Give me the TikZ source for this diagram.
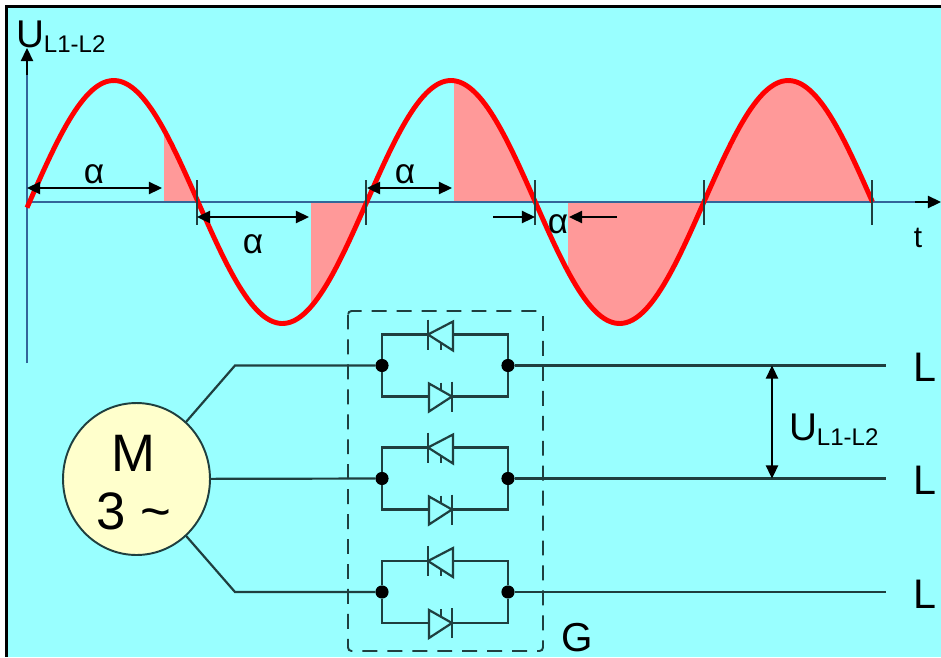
\documentclass[tikz,border=0pt]{standalone}
\usepackage{fontspec}
\setmainfont{Liberation Sans}
\usetikzlibrary{arrows.meta}
\usetikzlibrary{shapes.geometric}

\definecolor{bgcyan}{HTML}{99FFFF}
\definecolor{wavepink}{HTML}{FF9999}
\definecolor{motorcream}{HTML}{FFFFCC}
\definecolor{axisblue}{HTML}{336699}
\definecolor{wiredark}{HTML}{1F3F3F}

\newcommand{\ULabel}{{\fontsize{22}{22}\selectfont U}{\fontsize{13.7}{14}\selectfont\raisebox{-3pt}{L1-L2}}}
\newcommand{\SineY}[1]{202-121.5*sin((#1-29.5)/168.6*180)}

\begin{document}
\begin{tikzpicture}[x=0.02cm, y=-0.02cm, every node/.style={inner sep=0pt, outer sep=0pt}]
	\tikzset{wire/.style={wiredark, line width=1.25pt}}
	\tikzset{tip/.style={-{Triangle[length=7.5pt,width=7pt]}, black, line width=1pt}}
	\tikzset{tipboth/.style={{Triangle[length=7.5pt,width=7pt]}-{Triangle[length=7.5pt,width=7pt]}, black, line width=1pt}}
	\tikzset{junction/.style={circle, fill=black, minimum size=7.5pt}}
	\tikzset{alphalabel/.style={font=\fontsize{20}{20}\selectfont}}
	\tikzset{linelabel/.style={anchor=base west, font=\fontsize{23.5}{24}\selectfont}}
	\tikzset{motorlabel/.style={font=\fontsize{30}{30}\selectfont}}

	\useasboundingbox (0,0) rectangle (941,657);
	\fill[bgcyan] (6,6) rectangle (941,657);
	\draw[black, line width=1.3pt] (941,6.5) -- (6.5,6.5) -- (6.5,657);

	% Shaded parts of the wave
	\foreach \a/\b in {164/198,311/367,454/535.5,568/704,704/872.5}{
		\fill[wavepink] (\a,202) -- plot[domain=\a:\b, samples=60] (\x,{\SineY{\x}}) -- (\b,202) -- cycle;
	}

	% Axes
	\coordinate (O) at (27,202);
	\coordinate (Uend) at (27,48);
	\coordinate (Ustart) at (27,75);
	\coordinate (Ubottom) at (27,363);
	\coordinate (Tend) at (941,202);
	\coordinate (Tstart) at (915,202);
	\draw[axisblue, line width=0.8pt] (Ubottom) -- (Ustart);
	\draw[axisblue, line width=0.8pt] (O) -- (Tstart);
	\draw[tip] (Tstart) -- (Tend);
	\draw[tip] (Ustart) -- (Uend);
	\node[anchor=base west] (ulabel) at (16,47) {\ULabel};
	\node[anchor=base, font=\fontsize{17}{17}\selectfont] (tlabel) at (918,247) {t};

	\draw[red, line width=2.8pt, line join=round] plot[domain=27:872.5, samples=300] (\x,{\SineY{\x}});

	% Zero marks
	\foreach \i/\x in {1/197,2/366,3/535,4/704,5/872}{
		\coordinate (ma\i) at (\x,180);
		\coordinate (mb\i) at (\x,225);
		\draw[wire] (ma\i) -- (mb\i);
	}

	% Firing angle arrows
	\coordinate (a1) at (27,188);   \coordinate (a2) at (162,188);
	\coordinate (b1) at (197,217);  \coordinate (b2) at (309,217);
	\coordinate (c1) at (367,188);  \coordinate (c2) at (452,188);
	\coordinate (d1) at (493,217);  \coordinate (d2) at (535,217);
	\coordinate (e1) at (617,217);  \coordinate (e2) at (569,217);
	\draw[tipboth] (a1) -- (a2);
	\draw[tipboth] (b1) -- (b2);
	\draw[tipboth] (c1) -- (c2);
	\draw[tip] (d1) -- (d2);
	\draw[tip] (e1) -- (e2);
	\node[alphalabel] (aa) at (94,174) {α};
	\node[alphalabel] (ab) at (253,244) {α};
	\node[alphalabel] (ac) at (405,174) {α};
	\node[alphalabel] (ad) at (558,224) {α};

	% Controller box
	\draw[wiredark, line width=1.1pt, rounded corners=2pt, dash pattern=on 8.5pt off 5.7pt] (348,311) rectangle (543,651);
	\node[anchor=base west, font=\fontsize{23}{23}\selectfont] (G) at (561,651) {G};

	% Motor
	\node[ellipse, draw=wiredark, fill=motorcream, line width=1.1pt, minimum width=2.94cm, minimum height=3.04cm] (M) at (136.5,479) {};
	\node[motorlabel] (Mname) at (133.5,453) {M};
	\node[motorlabel] (Mphase) at (134,511) {3 \textasciitilde};
	\coordinate (bend1) at (235,365.5);
	\coordinate (bend3) at (235,592);

	% Three anti parallel thyristor pairs
	\foreach \i/\y in {1/365.5,2/478.5,3/592}{
		\node[junction] (jl\i) at (382,\y) {};
		\node[junction] (jr\i) at (508,\y) {};
		\coordinate (line\i) at (886,\y);
		\node[linelabel] (L\i) at (913,\y+16) {L};
		\draw[wire] (jr\i) -- (line\i);
		% upper one
		\draw[wire] (jl\i) |- (428,\y-31);
		\draw[wire] (jr\i) |- (453,\y-31);
		\draw[wire] (428,\y-46) -- (428,\y-16);
		\draw[wire] (428,\y-31) -- (453,\y-44) -- (453,\y-15) -- cycle;
		\draw[wire] (441,\y-23) -- (441,\y-16);
		% lower one
		\draw[wire] (jl\i) |- (429,\y+31);
		\draw[wire] (jr\i) |- (452,\y+31);
		\draw[wire] (452,\y+16) -- (452,\y+46);
		\draw[wire] (452,\y+31) -- (429,\y+18) -- (429,\y+46) -- cycle;
		\draw[wire] (441,\y+17) -- (441,\y+25);
	}
	\draw[wire] (M) -- (bend1) -- (jl1);
	\draw[wire] (M) -- (jl2);
	\draw[wire] (M) -- (bend3) -- (jl3);

	% Line voltage
	\coordinate (va) at (772,365.5);
	\coordinate (vb) at (772,478.5);
	\draw[tipboth] (va) -- (vb);
	\node[anchor=base west] (uline) at (789,440) {\ULabel};
\end{tikzpicture}
\end{document}
